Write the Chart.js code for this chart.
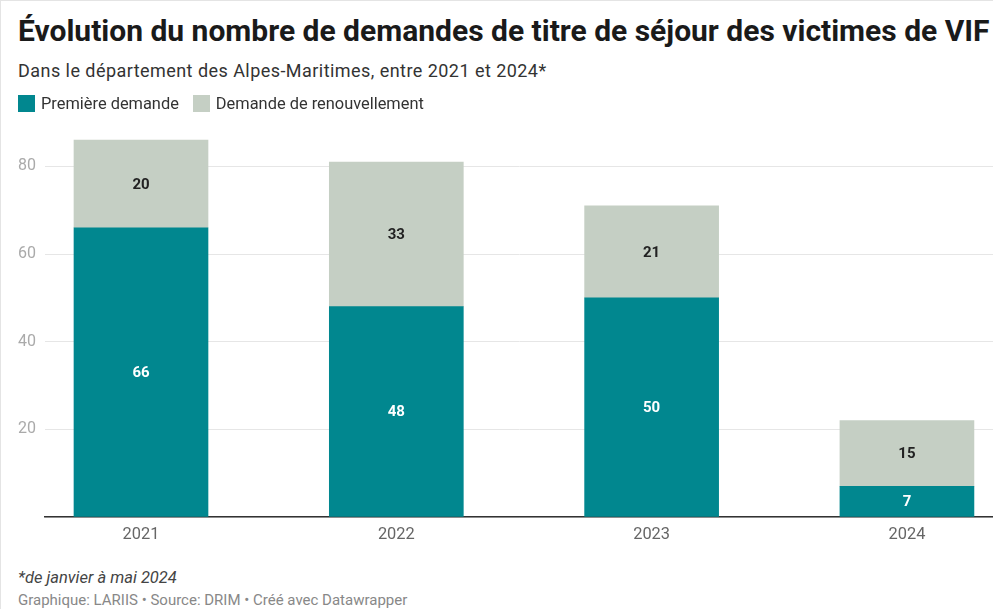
<!DOCTYPE html>
<html lang="fr">
<head>
<meta charset="utf-8">
<script src="https://cdn.jsdelivr.net/npm/chart.js@4"></script>
<style>
  html, body { margin: 0; padding: 0; background: #fff; }
  body {
    width: 993px; height: 609px; overflow: hidden; position: relative;
    font-family: Roboto, 'Liberation Sans', sans-serif;
    border-left: 1px solid #e4e4e4; border-top: 1px solid #e4e4e4;
    box-sizing: border-box;
  }
  #title { position: absolute; left: 17px; top: 12px; font-size: 30px; font-weight: 700; color: #1a1a1a; white-space: nowrap; }
  #subtitle { position: absolute; left: 17px; top: 59px; font-size: 18px; letter-spacing: 0.45px; color: #333; white-space: nowrap; }
  #legend { position: absolute; left: 17px; top: 93px; font-size: 16.4px; color: #333; display: flex; align-items: center; z-index: 2; }
  #legend span.box { display: inline-block; width: 17px; height: 17px; margin-right: 6px; }
  #legend span.item { display: flex; align-items: center; margin-right: 14px; }
  #note { position: absolute; left: 17px; top: 567px; font-size: 16.5px; font-style: italic; color: #444; }
  #credits { position: absolute; left: 17px; top: 590px; font-size: 15px; color: #888; white-space: nowrap; }
  #wrap { position: absolute; left: 0; top: 103px; width: 993px; height: 457px; }
</style>
</head>
<body>
<div id="title">Évolution du nombre de demandes de titre de séjour des victimes de VIF</div>
<div id="subtitle">Dans le département des Alpes-Maritimes, entre 2021 et 2024*</div>
<div id="wrap"><canvas id="chart"></canvas></div>
<div id="legend"></div>
<div id="note">*de janvier à mai 2024</div>
<div id="credits">Graphique: LARIIS • Source: DRIM • Créé avec Datawrapper</div>
<script>
const years = ['2021', '2022', '2023', '2024'];
const premiere = [66, 48, 50, 7];
const renouvellement = [20, 33, 21, 15];
const yTicks = [0, 20, 40, 60, 80];
const seriesNames = ['Première demande', 'Demande de renouvellement'];
const colors = ['#01878f', '#c5cfc4'];
const labelColors = ['#ffffff', '#222222'];

const legend = document.getElementById('legend');
seriesNames.forEach((name, i) => {
    legend.insertAdjacentHTML('beforeend',
        `<span class="item"><span class="box" style="background:${colors[i]}"></span>${name}</span>`);
});

const barLabels = {
    id: 'bar_labels',
    afterDatasetsDraw: (chart) => {
        const { ctx } = chart;
        ctx.save();
        ctx.font = "bold 15px Roboto, 'Liberation Sans', sans-serif";
        ctx.textAlign = 'center';
        ctx.textBaseline = 'middle';
        chart.data.datasets.forEach((ds, i) => {
            const meta = chart.getDatasetMeta(i);
            ctx.fillStyle = labelColors[i];
            meta.data.forEach((bar, j) => {
                ctx.fillText(String(ds.data[j].y), bar.x, (bar.y + bar.base) / 2 + 1);
            });
        });
        ctx.restore();
    }
};

const toPoints = arr => arr.map((v, i) => ({ x: i, y: v }));

new Chart(document.getElementById('chart'), {
    type: 'bar',
    data: {
        datasets: [
            { label: seriesNames[0], data: toPoints(premiere), backgroundColor: colors[0], barThickness: 134 },
            { label: seriesNames[1], data: toPoints(renouvellement), backgroundColor: colors[1], barThickness: 134 }
        ]
    },
    options: {
        responsive: true,
        maintainAspectRatio: false,
        animation: false,
        layout: { padding: { top: 6, left: 0, right: 0, bottom: 0 } },
        scales: {
            x: {
                type: 'linear',
                stacked: true,
                offset: false,
                min: -0.376,
                max: 3.341,
                afterBuildTicks: (scale) => { scale.ticks = years.map((_, i) => ({ value: i })); },
                afterFit: (scale) => { scale.height = 44; },
                grid: { display: false, drawTicks: false },
                border: { color: '#333', width: 1.5 },
                ticks: {
                    callback: (v) => years[v],
                    color: '#666',
                    padding: 8,
                    maxRotation: 0,
                    font: { size: 16.4, family: "Roboto, 'Liberation Sans', sans-serif" }
                }
            },
            y: {
                stacked: true,
                min: 0,
                max: 90,
                afterBuildTicks: (scale) => { scale.ticks = yTicks.map(v => ({ value: v })); },
                afterFit: (scale) => { scale.width = 44; },
                grid: { color: '#e6e6e6', drawTicks: false },
                border: { display: false },
                ticks: {
                    callback: (v) => v === 0 ? '' : v,
                    color: '#aaa',
                    padding: 9,
                    font: { size: 16, family: "Roboto, 'Liberation Sans', sans-serif" }
                }
            }
        },
        plugins: {
            legend: { display: false },
            tooltip: { enabled: false }
        }
    },
    plugins: [barLabels]
});
</script>
</body>
</html>
